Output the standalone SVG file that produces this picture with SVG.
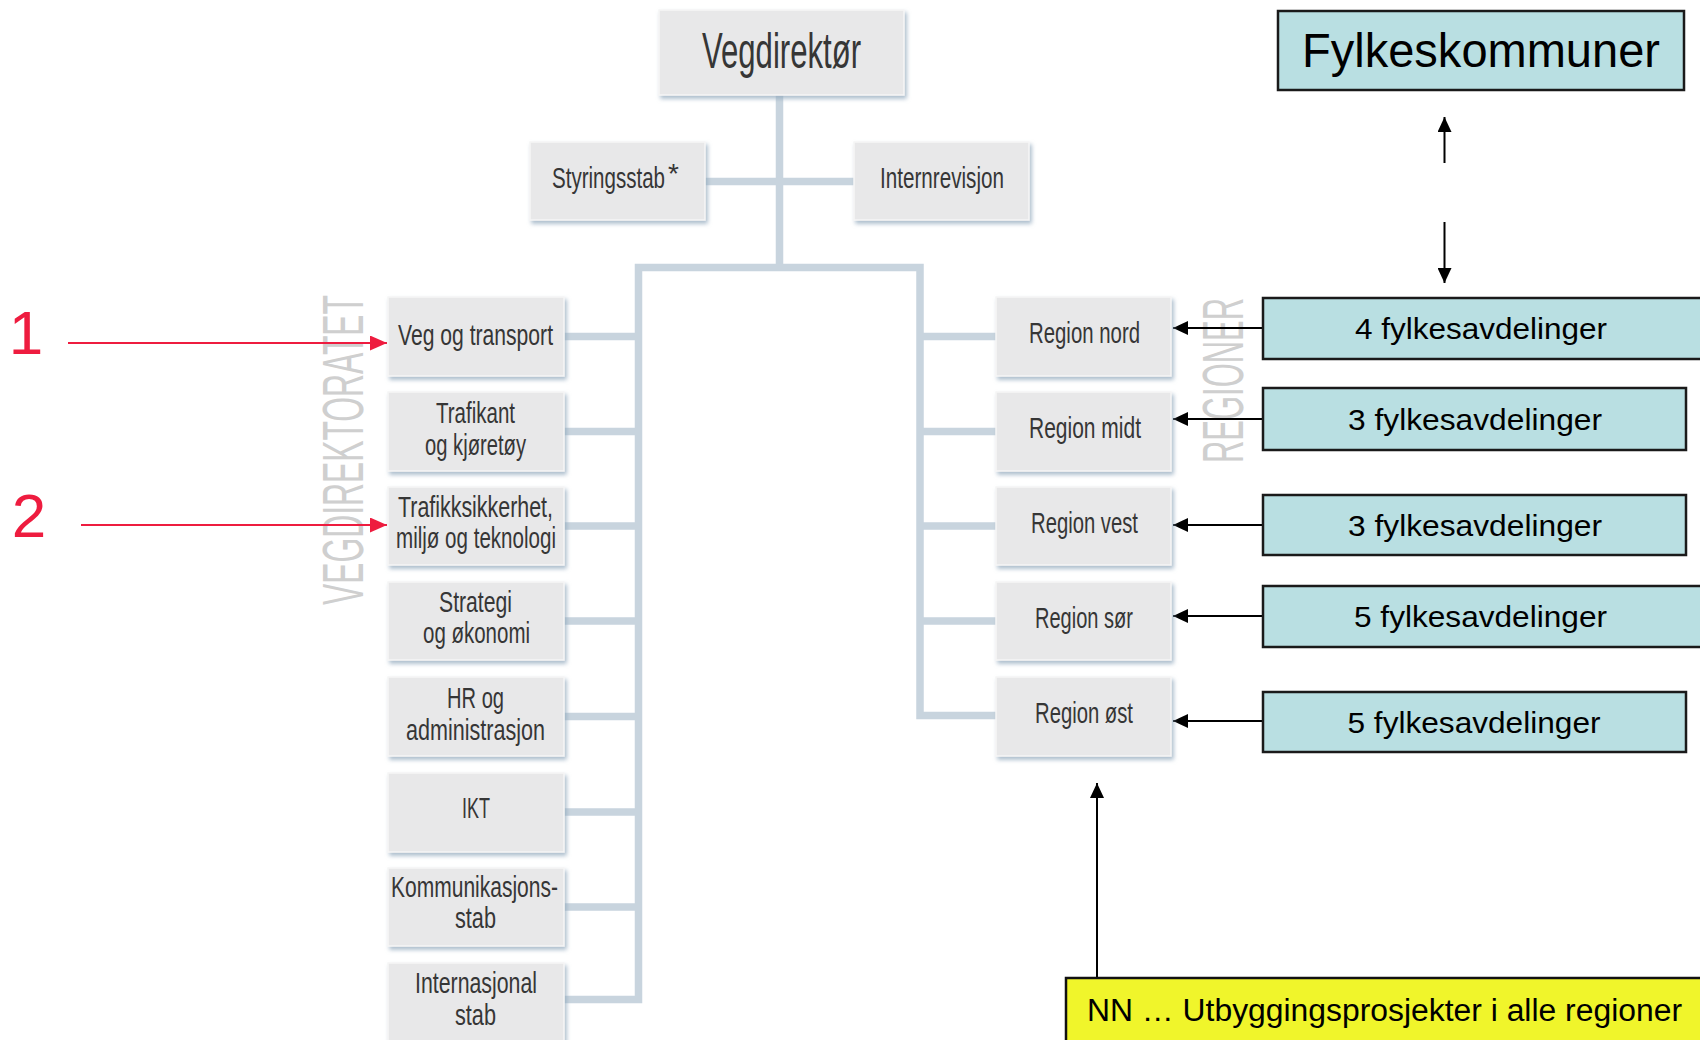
<svg xmlns="http://www.w3.org/2000/svg" width="1700" height="1040" viewBox="0 0 1700 1040">
<style>
.gbox{fill:#e8e8e9;stroke:#f6f6f6;stroke-width:1.5;filter:url(#sh)}
.gt{font-family:"Liberation Sans",Arial,sans-serif;font-size:30px;fill:#363636;}
.big{font-size:50px;}
.side{font-family:"Liberation Sans",Arial,sans-serif;font-size:57px;fill:#cfcfcf;}
.tbox{fill:#b9dfe2;stroke:#1a1a1a;stroke-width:2.5}
.ybox{fill:#f0f52b;stroke:#111;stroke-width:2.5}
.tt{font-family:"Liberation Sans",Arial,sans-serif;font-size:30px;fill:#000;}
.conn{fill:none;stroke:#c8d4de;stroke-width:7.5;stroke-linejoin:miter}
.arr{fill:none;stroke:#000;stroke-width:2;marker-end:url(#ah)}
.red{fill:none;stroke:#ee1c3f;stroke-width:2;marker-end:url(#rh)}
.num{font-family:"Liberation Sans",Arial,sans-serif;font-size:62px;fill:#ee1c3f;text-anchor:middle}
</style>
<defs>
<filter id="sh" x="-10%" y="-10%" width="125%" height="130%">
<feDropShadow dx="2" dy="3" stdDeviation="2" flood-color="#8fa6bb" flood-opacity="0.75"/>
</filter>
<marker id="ah" viewBox="0 0 15 14" refX="15" refY="7" markerWidth="15" markerHeight="14" markerUnits="userSpaceOnUse" orient="auto">
<path d="M0,0 L15,7 L0,14 z" fill="#000"/>
</marker>
<marker id="rh" viewBox="0 0 17 15" refX="17" refY="7.5" markerWidth="17" markerHeight="15" markerUnits="userSpaceOnUse" orient="auto">
<path d="M0,0 L17,7.5 L0,15 z" fill="#ee1c3f"/>
</marker>
</defs>
<rect width="1700" height="1040" fill="#fff"/>

<g id="labels">
<text class="side" transform="translate(363,605) rotate(-90)" textLength="310" lengthAdjust="spacingAndGlyphs">VEGDIREKTORATET</text>
<text class="side" transform="translate(1243,463) rotate(-90)" textLength="165" lengthAdjust="spacingAndGlyphs">REGIONER</text>
</g>

<g id="connectors">
<path class="conn" d="M779.5 95 V268"/>
<path class="conn" d="M705 181.5 H854"/>
<path class="conn" d="M564 999.5 H638.5 V267.5 H920 V715.5 H996"/>
<path class="conn" d="M564 336.5 H638.5 M564 431.5 H638.5 M564 526 H638.5 M564 621 H638.5 M564 716.5 H638.5 M564 812 H638.5 M564 907 H638.5"/>
<path class="conn" d="M920 336.5 H996 M920 431.5 H996 M920 526 H996 M920 621 H996"/>
<path class="arr" d="M1263 328 H1173"/>
<path class="arr" d="M1263 419 H1173"/>
<path class="arr" d="M1263 525 H1173"/>
<path class="arr" d="M1263 616 H1173"/>
<path class="arr" d="M1263 721 H1173"/>
<path class="arr" d="M1444.5 163 V117"/>
<path class="arr" d="M1444.5 222 V283"/>
<path class="arr" d="M1097 978 V783"/>
<path class="red" d="M68 343 H387"/>
<path class="red" d="M81 525 H387"/>
</g>

<g id="vegdirektor">
<rect class="gbox" x="659" y="10" width="245" height="85"/>
<text class="gt big" x="702" y="68" textLength="159" lengthAdjust="spacingAndGlyphs">Vegdirektør</text>
</g>
<g id="styringsstab">
<rect class="gbox" x="530" y="142" width="175" height="78"/>
<text class="gt" x="552" y="188"><tspan textLength="113" lengthAdjust="spacingAndGlyphs">Styringsstab</tspan><tspan dx="3" dy="-5" style="font-size:28px">*</tspan></text>
</g>
<g id="internrevisjon">
<rect class="gbox" x="854" y="142" width="175" height="78"/>
<text class="gt" x="880" y="188" textLength="124" lengthAdjust="spacingAndGlyphs">Internrevisjon</text>
</g>

<g id="veg-og-transport">
<rect class="gbox" x="388" y="297" width="176" height="79"/>
<text class="gt" x="398" y="345" textLength="155" lengthAdjust="spacingAndGlyphs">Veg og transport</text>
</g>
<g id="trafikant">
<rect class="gbox" x="388" y="392" width="176" height="79"/>
<text class="gt" x="436" y="423" textLength="79" lengthAdjust="spacingAndGlyphs">Trafikant</text>
<text class="gt" x="425" y="455" textLength="101" lengthAdjust="spacingAndGlyphs">og kjøretøy</text>
</g>
<g id="trafikksikkerhet">
<rect class="gbox" x="388" y="487" width="176" height="78"/>
<text class="gt" x="398" y="517" textLength="155" lengthAdjust="spacingAndGlyphs">Trafikksikkerhet,</text>
<text class="gt" x="396" y="548" textLength="160" lengthAdjust="spacingAndGlyphs">miljø og teknologi</text>
</g>
<g id="strategi">
<rect class="gbox" x="388" y="582" width="176" height="78"/>
<text class="gt" x="439" y="612" textLength="73" lengthAdjust="spacingAndGlyphs">Strategi</text>
<text class="gt" x="423" y="643" textLength="107" lengthAdjust="spacingAndGlyphs">og økonomi</text>
</g>
<g id="hr">
<rect class="gbox" x="388" y="677" width="176" height="79"/>
<text class="gt" x="447" y="708" textLength="57" lengthAdjust="spacingAndGlyphs">HR og</text>
<text class="gt" x="406" y="740" textLength="139" lengthAdjust="spacingAndGlyphs">administrasjon</text>
</g>
<g id="ikt">
<rect class="gbox" x="388" y="773" width="176" height="79"/>
<text class="gt" x="462" y="818" textLength="28" lengthAdjust="spacingAndGlyphs">IKT</text>
</g>
<g id="kommunikasjonsstab">
<rect class="gbox" x="388" y="868" width="176" height="78"/>
<text class="gt" x="391" y="897" textLength="167" lengthAdjust="spacingAndGlyphs">Kommunikasjons-</text>
<text class="gt" x="455" y="928" textLength="41" lengthAdjust="spacingAndGlyphs">stab</text>
</g>
<g id="internasjonal-stab">
<rect class="gbox" x="388" y="963" width="176" height="90"/>
<text class="gt" x="415" y="993" textLength="122" lengthAdjust="spacingAndGlyphs">Internasjonal</text>
<text class="gt" x="455" y="1025" textLength="41" lengthAdjust="spacingAndGlyphs">stab</text>
</g>

<g id="region-nord">
<rect class="gbox" x="996" y="297" width="175" height="79"/>
<text class="gt" x="1029" y="343" textLength="111" lengthAdjust="spacingAndGlyphs">Region nord</text>
</g>
<g id="region-midt">
<rect class="gbox" x="996" y="392" width="175" height="79"/>
<text class="gt" x="1029" y="438" textLength="112" lengthAdjust="spacingAndGlyphs">Region midt</text>
</g>
<g id="region-vest">
<rect class="gbox" x="996" y="487" width="175" height="78"/>
<text class="gt" x="1031" y="533" textLength="107" lengthAdjust="spacingAndGlyphs">Region vest</text>
</g>
<g id="region-sor">
<rect class="gbox" x="996" y="582" width="175" height="78"/>
<text class="gt" x="1035" y="628" textLength="98" lengthAdjust="spacingAndGlyphs">Region sør</text>
</g>
<g id="region-ost">
<rect class="gbox" x="996" y="677" width="175" height="79"/>
<text class="gt" x="1035" y="723" textLength="98" lengthAdjust="spacingAndGlyphs">Region øst</text>
</g>

<g id="fylkeskommuner">
<rect class="tbox" x="1278" y="11" width="406" height="79"/>
<text class="tt" x="1302" y="67" style="font-size:48px" textLength="358" lengthAdjust="spacingAndGlyphs">Fylkeskommuner</text>
</g>
<g id="fylke-nord">
<rect class="tbox" x="1263" y="298" width="450" height="61"/>
<text class="tt" x="1355" y="339" textLength="252" lengthAdjust="spacingAndGlyphs">4 fylkesavdelinger</text>
</g>
<g id="fylke-midt">
<rect class="tbox" x="1263" y="388" width="423" height="62"/>
<text class="tt" x="1348" y="429.5" textLength="254" lengthAdjust="spacingAndGlyphs">3 fylkesavdelinger</text>
</g>
<g id="fylke-vest">
<rect class="tbox" x="1263" y="495" width="423" height="60"/>
<text class="tt" x="1348" y="535.5" textLength="254" lengthAdjust="spacingAndGlyphs">3 fylkesavdelinger</text>
</g>
<g id="fylke-sor">
<rect class="tbox" x="1263" y="586" width="450" height="61"/>
<text class="tt" x="1354" y="627" textLength="253" lengthAdjust="spacingAndGlyphs">5 fylkesavdelinger</text>
</g>
<g id="fylke-ost">
<rect class="tbox" x="1263" y="692" width="423" height="60"/>
<text class="tt" x="1347.5" y="732.5" textLength="253" lengthAdjust="spacingAndGlyphs">5 fylkesavdelinger</text>
</g>
<g id="utbygging">
<rect class="ybox" x="1066" y="978" width="650" height="75"/>
<text class="tt" x="1087" y="1021" style="font-size:31px" textLength="595" lengthAdjust="spacingAndGlyphs">NN … Utbyggingsprosjekter i alle regioner</text>
</g>

<g id="markers-num">
<text class="num" x="26" y="354">1</text>
<text class="num" x="29" y="537">2</text>
</g>
</svg>
